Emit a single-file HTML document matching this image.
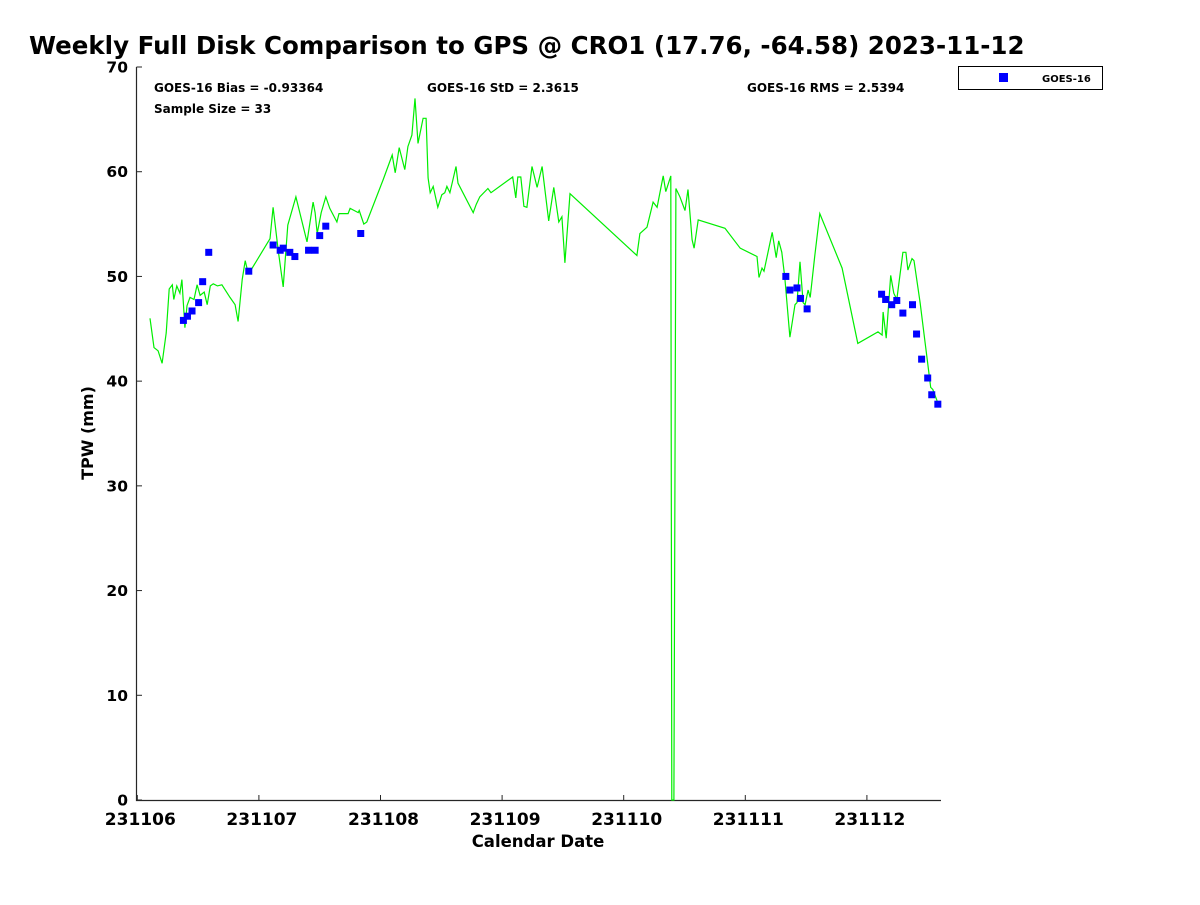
<!DOCTYPE html>
<html><head><meta charset="utf-8"><style>
html,body{margin:0;padding:0;background:#fff;}
svg text{font-family:"DejaVu Sans","Liberation Sans",sans-serif;font-weight:bold;fill:#000;}
</style></head><body>
<svg id="chart" width="1200" height="900" viewBox="0 0 1200 900" xmlns="http://www.w3.org/2000/svg">
<text x="29" y="54" font-size="24.5">Weekly Full Disk Comparison to GPS @ CRO1 (17.76, -64.58) 2023-11-12</text>
<text x="154" y="92" font-size="12">GOES-16 Bias = -0.93364</text>
<text x="154" y="113" font-size="12">Sample Size = 33</text>
<text x="427" y="92" font-size="12">GOES-16 StD = 2.3615</text>
<text x="747" y="92" font-size="12">GOES-16 RMS = 2.5394</text>
<g>
<rect x="958.5" y="66.5" width="144" height="23" fill="#fff" stroke="#000" stroke-width="1"/>
<rect x="999" y="73" width="9" height="9" fill="#0000ff"/>
<text x="1042" y="82" font-size="10">GOES-16</text>
</g>
<g id="plot"></g>
<text x="538" y="847" font-size="16.5" text-anchor="middle">Calendar Date</text>
<text transform="translate(93,433) rotate(-90)" font-size="16" text-anchor="middle">TPW (mm)</text>
</svg>
<script>
// hours since 231106 00:00 and TPW (mm)
const lineHours = [2.5,3.3,4.1,4.9,5.7,6.3,6.9,7.2,7.8,8.4,8.8,9.4,9.8,10.4,11.2,11.8,12.4,13.2,13.8,14.4,15.0,15.8,16.7,18.3,19.3,19.9,20.7,21.3,21.7,22.3,26.2,26.8,27.8,28.8,29.7,31.3,33.5,34.7,35.1,35.5,36.3,37.2,38.0,39.4,39.8,41.6,42.0,43.6,43.8,44.7,45.3,48.5,50.3,50.9,51.7,52.8,53.4,54.2,54.8,55.4,56.4,57.0,57.4,57.8,58.4,59.3,60.1,60.7,61.1,61.7,62.9,63.3,66.3,66.9,67.6,69.2,69.8,74.1,74.7,75.1,75.7,76.3,76.9,77.9,78.9,79.9,81.2,82.2,83.2,83.8,84.4,85.4,98.6,99.2,100.6,101.8,102.6,103.8,104.3,105.3,105.5,105.9,106.3,107.1,108.1,108.7,109.5,109.9,110.7,116.0,119.0,122.3,122.7,123.3,123.7,125.3,126.1,126.6,127.2,127.8,128.8,129.8,130.2,130.8,131.4,131.8,132.4,132.8,133.7,134.7,139.1,142.2,146.2,147.0,147.2,147.8,148.7,149.3,149.9,151.1,151.7,152.1,152.9,153.3,154.5,155.5,156.0,156.6,157.0,157.8,158.2];
const lineValues = [46.0,43.2,42.9,41.7,44.6,48.8,49.2,47.8,49.1,48.4,49.7,45.1,47.2,48.0,47.8,49.2,48.2,48.5,47.3,49.1,49.3,49.1,49.2,48.0,47.3,45.7,49.7,51.5,50.7,50.5,53.6,56.6,52.5,49.0,54.9,57.6,53.3,57.1,56.1,54.1,56.1,57.6,56.5,55.2,56.0,56.0,56.5,56.1,56.3,55.0,55.2,59.2,61.6,59.9,62.3,60.2,62.4,63.5,67.0,62.7,65.1,65.1,59.4,58.0,58.6,56.6,57.8,58.0,58.6,58.0,60.5,58.9,56.1,56.9,57.6,58.4,58.0,59.5,57.5,59.5,59.5,56.7,56.6,60.5,58.5,60.5,55.3,58.5,55.2,55.7,51.3,57.9,52.0,54.1,54.7,57.1,56.6,59.6,58.1,59.6,0,0,58.4,57.6,56.3,58.3,53.5,52.7,55.4,54.6,52.7,51.9,49.9,50.8,50.5,54.2,51.8,53.4,52.3,49.9,44.2,47.3,47.5,51.4,47.5,47.3,48.7,48.0,51.9,56.0,50.8,43.6,44.7,44.4,46.6,44.1,50.1,48.4,47.8,52.3,52.3,50.6,51.7,51.5,47.5,43.6,41.7,39.4,39.2,38.2,37.5];
const goesHours = [9.1,9.9,10.8,12.1,12.9,14.1,22.0,26.8,28.2,28.8,30.1,31.1,33.8,35.1,36.0,37.2,44.1,128.0,128.8,130.2,130.9,132.2,146.9,147.7,148.9,149.9,151.1,153.0,153.8,154.8,156.0,156.8,158.0];
const goesValues = [45.8,46.2,46.7,47.5,49.5,52.3,50.5,53.0,52.5,52.7,52.3,51.9,52.5,52.5,53.9,54.8,54.1,50.0,48.7,48.9,47.9,46.9,48.3,47.8,47.3,47.7,46.5,47.3,44.5,42.1,40.3,38.7,37.8];
const xTickLabels = ["231106","231107","231108","231109","231110","231111","231112"];
const yTicks = [0,10,20,30,40,50,60,70];

const NS = "http://www.w3.org/2000/svg";
const X0 = 137.3, PXH = 121.6/24, Y0 = 800, PXV = 733/70, XR = 941;
const xs = h => X0 + h*PXH;
const ys = v => Y0 - v*PXV;
const plot = document.getElementById('plot');
function mk(tag, attrs){const e=document.createElementNS(NS,tag);for(const k in attrs)e.setAttribute(k,attrs[k]);return e;}

// axes
const ax = mk('path',{d:`M136.5,${ys(70)} V${Y0+0.5} H${XR}`,fill:'none',stroke:'#262626','stroke-width':1.2});


plot.appendChild(ax);

yTicks.forEach(v=>{
  const y = ys(v);
  const t = mk('line',{x1:136.5,x2:142,y1:y,y2:y,stroke:'#262626','stroke-width':1});
  
  
  plot.appendChild(t);
  const l = mk('text',{x:128,y:y+5.5,'font-size':15.5,'text-anchor':'end',fill:'#262626'});
  
  
  l.textContent = v;
  plot.appendChild(l);
});
xTickLabels.forEach((s,i)=>{
  const x = xs(i*24);
  const t = mk('line',{x1:x,x2:x,y1:Y0,y2:Y0-5,stroke:'#262626','stroke-width':1});
  
  
  plot.appendChild(t);
  const l = mk('text',{x:x+3,y:825,'font-size':17,'text-anchor':'middle',fill:'#262626'});
  
  
  l.textContent = s;
  plot.appendChild(l);
});

// GPS line
const pts = lineHours.map((h,i)=>xs(h).toFixed(1)+','+ys(lineValues[i]).toFixed(1)).join(' ');
const pl = mk('polyline',{points:pts,fill:'none',stroke:'#00ee00','stroke-width':1.2});


plot.appendChild(pl);

// GOES-16 markers
goesHours.forEach((h,i)=>{
  const r = mk('rect',{x:xs(h)-3.5,y:ys(goesValues[i])-3.5,width:7,height:7,fill:'#0000ff'});
  
  
  plot.appendChild(r);
});
</script>
</body></html>
